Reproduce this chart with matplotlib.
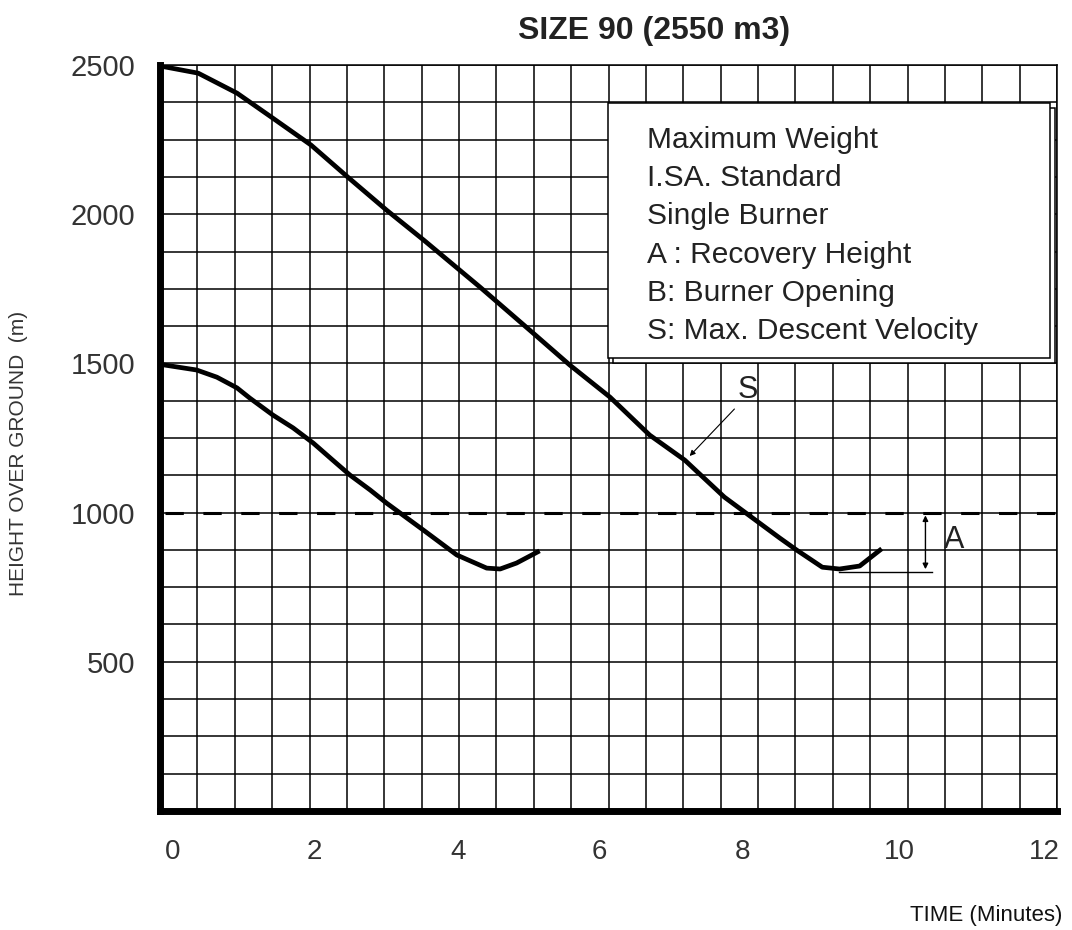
"""Descent profile chart for balloon size 90."""

import numpy as np
import matplotlib.pyplot as plt
import matplotlib.transforms as mtransforms
from matplotlib.patches import Rectangle

plt.rcParams['font.family'] = ['Liberation Sans', 'DejaVu Sans']

# upper curve: descent from 2500 m
t_high = [0.0, 0.51, 1.03, 1.51, 2.02, 2.51, 3.03, 3.53, 4.28, 4.99, 5.48,
          6.02, 6.55, 7.02, 7.55, 8.29, 8.52, 8.86, 9.09, 9.36, 9.63]
h_high = [2497, 2473, 2406, 2322, 2232, 2125, 2014, 1913, 1756, 1602, 1495,
          1387, 1260, 1176, 1052, 915, 874, 817, 811, 821, 874]

# lower curve: descent from 1500 m
t_low = [0.0, 0.49, 0.76, 1.03, 1.20, 1.51, 1.78, 2.05, 2.31, 2.54, 2.81,
         3.03, 3.52, 3.97, 4.37, 4.55, 4.77, 5.05]
h_low = [1497, 1478, 1454, 1418, 1384, 1327, 1284, 1233, 1176, 1126, 1076,
         1032, 942, 858, 814, 811, 831, 868]

recovery_height = 1000
recovery_min = 801

x_ticks = [0, 2, 4, 6, 8, 10, 12]
y_ticks = [500, 1000, 1500, 2000, 2500]

legend_lines = ['Maximum Weight', 'I.SA. Standard', 'Single Burner',
                'A : Recovery Height', 'B: Burner Opening',
                'S: Max. Descent Velocity']


def main():
    fig = plt.figure(figsize=(10.72, 9.30), dpi=100)
    ax = fig.add_axes([0.1493, 0.128, 0.8367, 0.802])
    ax.set_xlim(0, 12)
    ax.set_ylim(0, 2500)

    # grid
    ax.set_xticks(np.arange(0, 12.01, 0.5), minor=True)
    ax.set_yticks(np.arange(0, 2501, 125), minor=True)
    ax.set_xticks(x_ticks)
    ax.set_yticks(y_ticks)
    ax.grid(which='both', color='black', linewidth=1.1)
    ax.set_axisbelow(True)
    ax.tick_params(which='both', length=0)
    ax.tick_params(axis='x', pad=20, labelsize=20, labelcolor='#333333')
    ax.tick_params(axis='y', pad=18, labelsize=21, labelcolor='#333333')

    # the printed labels sit slightly off their grid lines
    shifts = [13, 5, -1, -9, -16, -8, -13]
    for lab, dx in zip(ax.get_xticklabels(), shifts):
        lab.set_transform(lab.get_transform() + mtransforms.ScaledTranslation(
            dx / 100.0, 0, fig.dpi_scale_trans))

    for side in ('left', 'bottom'):
        ax.spines[side].set_linewidth(5)
    for side in ('top', 'right'):
        ax.spines[side].set_linewidth(1.1)

    # curves
    ax.plot(t_high, h_high, color='black', lw=3.4, solid_joinstyle='round')
    ax.plot(t_low, h_low, color='black', lw=3.4, solid_joinstyle='round')

    # recovery height line
    line, = ax.plot([0.07, 12], [recovery_height, recovery_height],
                    color='black', lw=2.2)
    line.set_dashes((6.0, 6.4))

    # A marker
    ax.plot([9.09, 10.33], [recovery_min, recovery_min], color='black', lw=1)
    ax.annotate('', xy=(10.24, recovery_min), xytext=(10.24, recovery_height),
                arrowprops=dict(arrowstyle='<|-|>', color='black', lw=1,
                                mutation_scale=8))
    ax.text(10.63, 908, 'A', fontsize=22, ha='center', va='center',
            color='#222222')

    # S marker
    ax.annotate('', xy=(7.06, 1183), xytext=(7.71, 1354),
                arrowprops=dict(arrowstyle='-|>', color='black', lw=0.8,
                                mutation_scale=8))
    ax.text(7.86, 1411, 'S', fontsize=22, ha='center', va='center',
            color='#222222')

    # legend box
    px = 12 / 897.0
    py = 2500 / 746.0
    ax.add_patch(Rectangle((5.99 + 5 * px, 1518 - 5 * py), 5.91, 855,
                           facecolor='white', edgecolor='black', lw=1.1,
                           zorder=3))
    ax.add_patch(Rectangle((5.99, 1518), 5.91, 855, facecolor='white',
                           edgecolor='black', lw=1.1, zorder=4))
    for i, txt in enumerate(legend_lines):
        ax.text(6.52, 2222 - i * 128, txt, fontsize=21.5, ha='left',
                va='baseline', color='#222222', zorder=5)

    fig.text(0.61, 0.967, 'SIZE 90 (2550 m3)', fontsize=23,
             fontweight='bold', ha='center', va='center', color='#222222')
    fig.text(0.017, 0.512, 'HEIGHT OVER GROUND  (m)', fontsize=15,
             rotation=90, ha='center', va='center', color='#333333')
    fig.text(0.991, 0.016, 'TIME (Minutes)', fontsize=16, ha='right',
             va='center', color='#111111')

    fig.savefig('out.png', dpi=100)


if __name__ == '__main__':
    main()
